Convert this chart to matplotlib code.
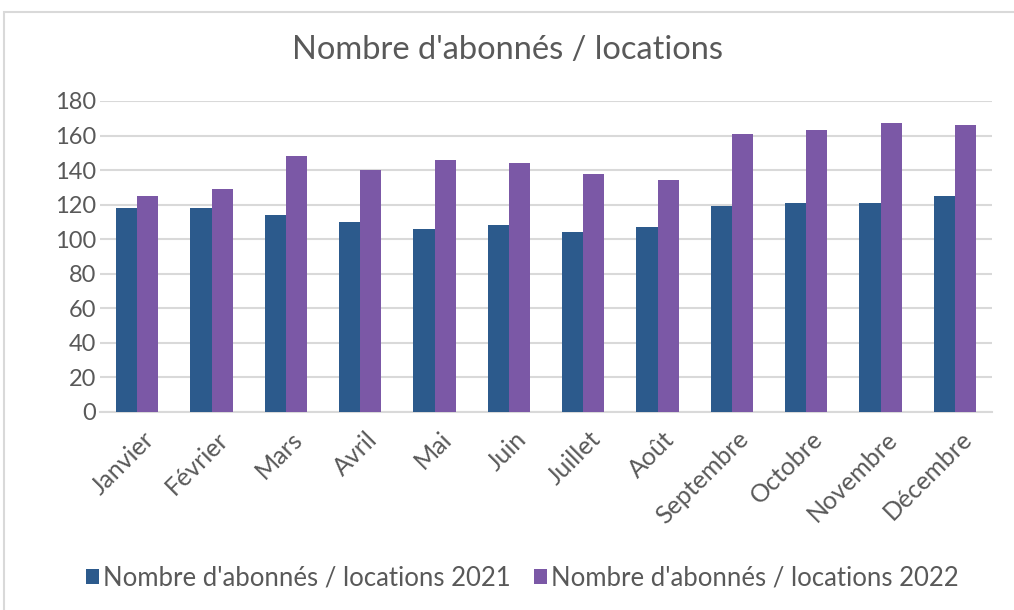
import numpy as np
import matplotlib.pyplot as plt
from matplotlib.patches import Rectangle

months = ['Janvier', 'Février', 'Mars', 'Avril', 'Mai', 'Juin', 'Juillet',
          'Août', 'Septembre', 'Octobre', 'Novembre', 'Décembre']
subs_2021 = [118, 118, 114, 110, 106, 108, 104, 107, 119, 121, 121, 125]
subs_2022 = [125, 129, 148, 140, 146, 144, 138, 134, 161, 163, 167, 166]
series_names = ["Nombre d'abonnés / locations 2021", "Nombre d'abonnés / locations 2022"]
yticks = list(range(0, 181, 20))

plt.rcParams['font.family'] = ['Lato', 'DejaVu Sans']
text_color = '#595959'
grid_color = '#D9D9D9'

fig = plt.figure(figsize=(10.14, 6.10), dpi=100)
fig.patches.append(Rectangle((4 / 1014, -0.1), 1.2, (610 - 12) / 610 + 0.1,
                             transform=fig.transFigure, fill=False,
                             edgecolor=grid_color, linewidth=1.5))
ax = fig.add_axes([100 / 1014, 198 / 610, 892 / 1014, 311 / 610])

x = np.arange(len(months))
w = 0.283
ax.bar(x - w / 2, subs_2021, w, color='#2C5A8C', label=series_names[0], zorder=3)
ax.bar(x + w / 2, subs_2022, w, color='#7B58A6', label=series_names[1], zorder=3)

ax.set_xlim(-0.5, len(months) - 0.5)
ax.set_ylim(0, 180)
ax.set_yticks(yticks)
ax.yaxis.grid(True, color=grid_color, linewidth=1.5, zorder=0)
for s in ['top', 'right', 'left']:
    ax.spines[s].set_visible(False)
ax.spines['bottom'].set_color(grid_color)
ax.spines['bottom'].set_linewidth(1.5)
ax.tick_params(length=0, colors=text_color, labelsize=17)
ax.tick_params(axis='y', pad=3)
ax.tick_params(axis='x', pad=11, labelsize=18)
ax.set_xticks(x + 0.07)
ax.set_xticklabels(months, rotation=45, ha='right', rotation_mode='anchor')

fig.text(0.5, 1 - 50 / 610, "Nombre d'abonnés / locations", ha='center', va='center',
         fontsize=23.5, color=text_color)
fig.legend(loc='center', bbox_to_anchor=(0.515, 1 - 578 / 610), ncol=2, frameon=False,
           fontsize=18.5, labelcolor=text_color, handlelength=0.5, handleheight=0.5,
           handletextpad=0.15, columnspacing=0.9)

fig.savefig('out.png', dpi=100)
